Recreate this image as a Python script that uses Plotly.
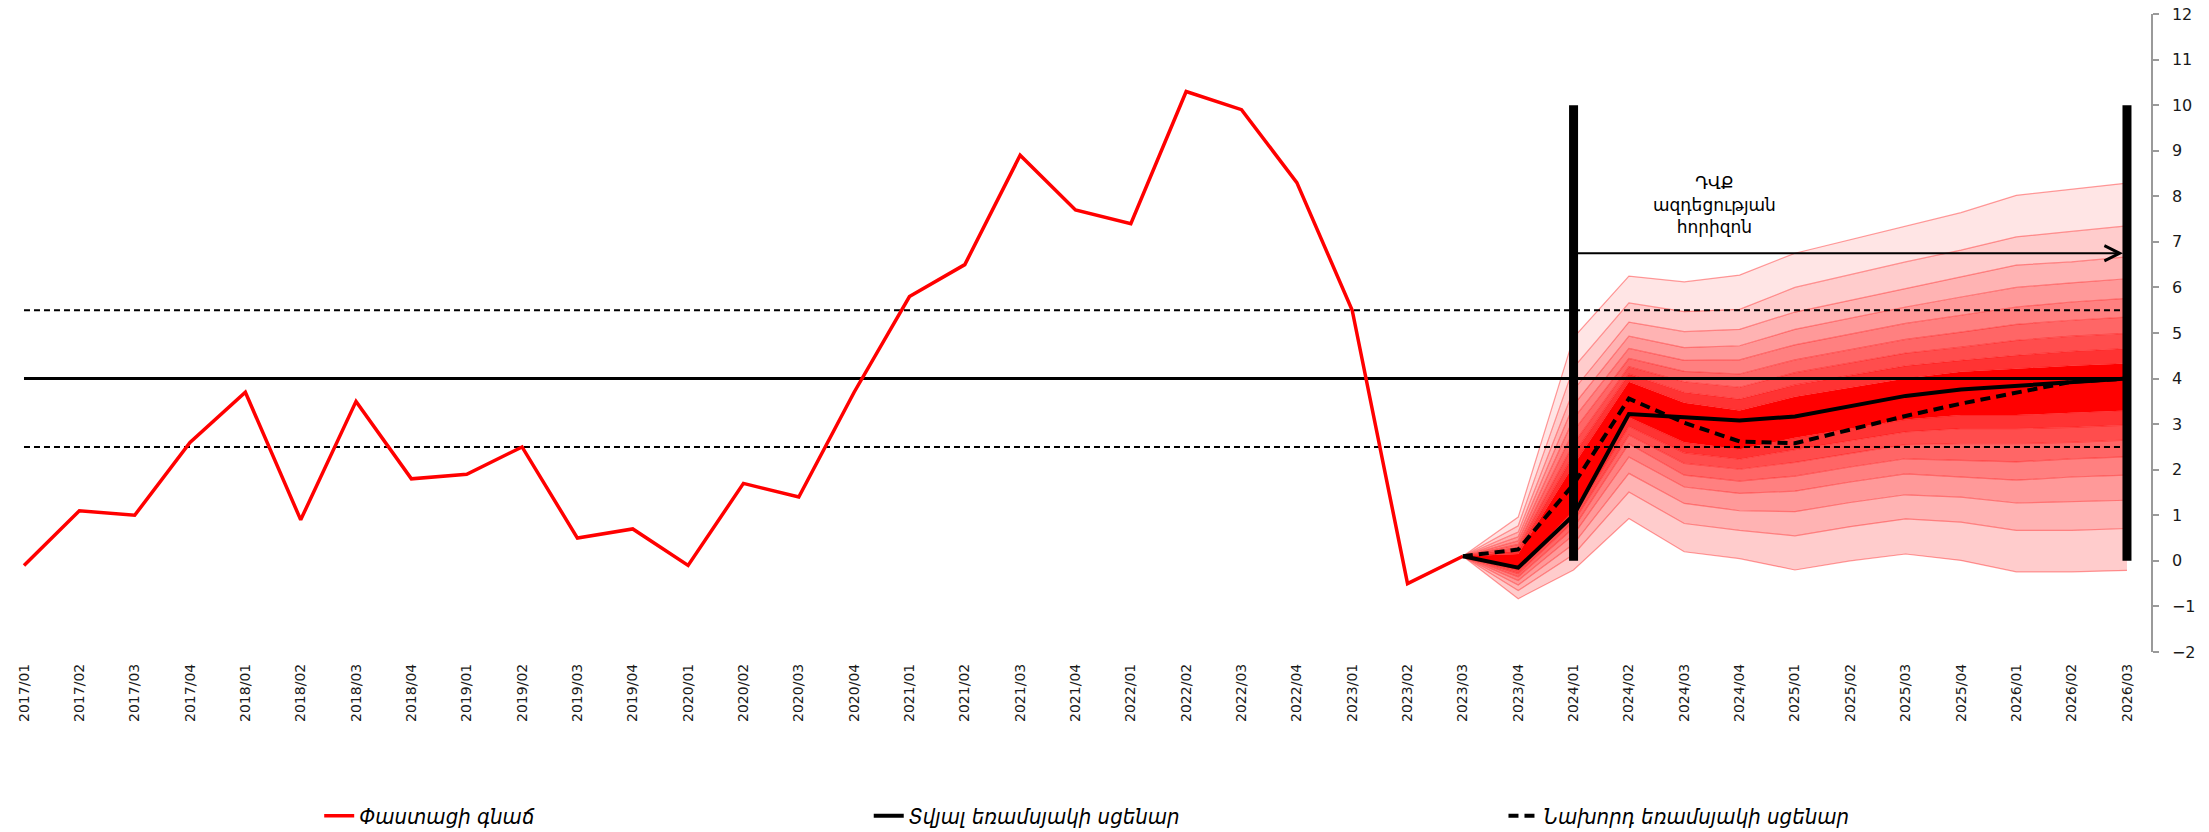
import plotly.graph_objects as go

# ---------------- data ----------------
categories = [f"{y}/{q:02d}" for y in range(2017, 2027) for q in range(1, 5)][:39]

actual_label = "Փաստացի գնաճ"
current_label = "Տվյալ եռամսյակի սցենար"
previous_label = "Նախորդ եռամսյակի սցենար"
horizon_text = "ԴՎՔ<br>ազդեցության<br>հորիզոն"

# actual inflation 2017/01 .. 2023/03
actual = [-0.1, 1.1, 1.0, 2.6, 3.7, 0.9, 3.5, 1.8, 1.9, 2.5, 0.5, 0.7, -0.1,
          1.7, 1.4, 3.7, 5.8, 6.5, 8.9, 7.7, 7.4, 10.3, 9.9, 8.3, 5.5, -0.5, 0.1]

# forecast period 2023/03 .. 2026/03
fc_start = "2023/03"
current_scn = [0.1, -0.15, 1.0, 3.22, 3.15, 3.08, 3.17, 3.4, 3.62, 3.76, 3.84, 3.92, 4.0]
previous_scn = [0.1, 0.25, 1.68, 3.56, 3.03, 2.62, 2.58, 2.88, 3.18, 3.45, 3.68, 3.93, 4.0]

# fan chart band edges (top to bottom)
up1 = [0.1, 0.96, 4.9, 6.25, 6.12, 6.27, 6.75, 7.05, 7.35, 7.64, 8.02, 8.15, 8.29]
up2 = [0.1, 0.77, 4.24, 5.66, 5.47, 5.52, 6.0, 6.28, 6.56, 6.82, 7.11, 7.23, 7.35]
up3 = [0.1, 0.63, 3.75, 5.24, 5.03, 5.08, 5.46, 5.72, 5.98, 6.23, 6.49, 6.56, 6.67]
up4 = [0.1, 0.53, 3.42, 4.93, 4.68, 4.72, 5.08, 5.33, 5.57, 5.79, 6.0, 6.10, 6.19]
up5 = [0.1, 0.44, 3.12, 4.66, 4.40, 4.41, 4.74, 4.97, 5.21, 5.39, 5.57, 5.68, 5.76]
up6 = [0.1, 0.36, 2.85, 4.44, 4.16, 4.10, 4.41, 4.64, 4.86, 5.02, 5.19, 5.28, 5.35]
up7 = [0.1, 0.29, 2.57, 4.26, 3.93, 3.81, 4.13, 4.34, 4.56, 4.69, 4.84, 4.93, 4.99]
up8 = [0.1, 0.22, 2.33, 4.10, 3.70, 3.55, 3.86, 4.07, 4.28, 4.40, 4.51, 4.60, 4.66]
up9 = [0.1, 0.15, 2.1, 3.93, 3.47, 3.3, 3.6, 3.8, 4.0, 4.15, 4.22, 4.28, 4.33]
lo1 = [0.1, -0.15, 1.1, 3.15, 2.6, 2.45, 2.7, 2.9, 3.1, 3.2, 3.2, 3.25, 3.30]
lo2 = [0.1, -0.21, 0.98, 2.95, 2.37, 2.23, 2.44, 2.64, 2.83, 2.9, 2.9, 2.93, 2.98]
lo3 = [0.1, -0.28, 0.86, 2.76, 2.14, 2.01, 2.16, 2.36, 2.55, 2.57, 2.57, 2.60, 2.65]
lo4 = [0.1, -0.35, 0.72, 2.57, 1.88, 1.75, 1.86, 2.06, 2.24, 2.21, 2.17, 2.24, 2.28]
lo5 = [0.1, -0.43, 0.57, 2.28, 1.62, 1.48, 1.53, 1.73, 1.91, 1.84, 1.77, 1.84, 1.88]
lo6 = [0.1, -0.53, 0.37, 1.92, 1.26, 1.10, 1.08, 1.28, 1.45, 1.40, 1.27, 1.30, 1.33]
lo7 = [0.1, -0.65, 0.14, 1.51, 0.82, 0.67, 0.55, 0.75, 0.92, 0.85, 0.67, 0.67, 0.71]
lo8 = [0.1, -0.83, -0.2, 0.93, 0.2, 0.05, -0.2, 0.0, 0.15, 0.01, -0.24, -0.24, -0.21]

target = 4.0
tolerance_hi = 5.5
tolerance_lo = 2.5
horizon_start = "2024/01"
horizon_end = "2026/03"
horizon_bar = [0, 10]
horizon_arrow_y = 6.75

# ---------------- styling ----------------
edges_bottom_up = [lo8, lo7, lo6, lo5, lo4, lo3, lo2, lo1, up9, up8, up7, up6, up5, up4, up3, up2, up1]
band_colors = [None, "#FFCCCC", "#FFB3B3", "#FF9999", "#FF8080", "#FF6666", "#FF4D4D", "#FF3333",
               "#FF0000", "#FF3333", "#FF4D4D", "#FF6666", "#FF8080", "#FF9999", "#FFB3B3", "#FFCCCC", "#FFE5E5"]

idx = {c: i for i, c in enumerate(categories)}
x_all = list(range(len(categories)))
x_act = x_all[:len(actual)]
x_fc = list(range(idx[fc_start], idx[fc_start] + len(current_scn)))

FONT = "DejaVu Sans"
fig = go.Figure()

for k, edge in enumerate(edges_bottom_up):
    fig.add_trace(go.Scatter(
        x=x_fc, y=edge, mode="lines",
        line=dict(color="rgba(255,0,0,0.38)", width=1.2),
        fill=None if k == 0 else "tonexty",
        fillcolor=band_colors[k],
        showlegend=False, hoverinfo="skip"))

fig.add_trace(go.Scatter(x=[x_all[0], x_all[-1]], y=[target, target], mode="lines",
                         line=dict(color="black", width=3), showlegend=False, hoverinfo="skip"))
for v in (tolerance_hi, tolerance_lo):
    fig.add_trace(go.Scatter(x=[x_all[0], x_all[-1]], y=[v, v], mode="lines",
                             line=dict(color="black", width=2, dash="6px,4px"),
                             showlegend=False, hoverinfo="skip"))

fig.add_trace(go.Scatter(x=x_act, y=actual, mode="lines", name=actual_label,
                         line=dict(color="#FF0000", width=3.5), legend="legend"))
fig.add_trace(go.Scatter(x=x_fc, y=current_scn, mode="lines", name=current_label,
                         line=dict(color="black", width=4), legend="legend2"))
fig.add_trace(go.Scatter(x=x_fc, y=previous_scn, mode="lines", name=previous_label,
                         line=dict(color="black", width=4, dash="10px,6px"), legend="legend3"))

for c in (horizon_start, horizon_end):
    fig.add_trace(go.Scatter(x=[idx[c], idx[c]], y=horizon_bar, mode="lines",
                             line=dict(color="black", width=9), showlegend=False, hoverinfo="skip"))

fig.add_annotation(x=idx[horizon_end], y=horizon_arrow_y, ax=idx[horizon_start], ay=horizon_arrow_y,
                   axref="x", ayref="y", xref="x", yref="y", text="", showarrow=True,
                   arrowhead=5, arrowsize=1.5, arrowwidth=2, arrowcolor="black", standoff=4)
fig.add_annotation(x=30.55, y=7.81, xref="x", yref="y", text=horizon_text, showarrow=False,
                   font=dict(family=FONT, size=17, color="black"), align="center",
                   xanchor="center", yanchor="middle")

leg_common = dict(orientation="h", yanchor="middle", xanchor="left", y=-0.257,
                  bgcolor="rgba(0,0,0,0)",
                  font=dict(family="DejaVu Sans Condensed, DejaVu Sans", size=22, style="italic", color="black"))

fig.update_layout(
    width=2209, height=832,
    margin=dict(l=21, r=58, t=14, b=180, autoexpand=False),
    paper_bgcolor="white", plot_bgcolor="white",
    template="none",
    legend=dict(x=0.140, **leg_common),
    legend2=dict(x=0.398, **leg_common),
    legend3=dict(x=0.696, **leg_common),
    xaxis=dict(range=[-0.054, 38.434], tickmode="array", tickvals=x_all, ticktext=categories,
               tickangle=-90, showgrid=False, zeroline=False, showline=False, ticks="",
               ticklabelstandoff=8, automargin=False,
               tickfont=dict(family=FONT, size=14, color="#1a1a1a")),
    yaxis=dict(range=[-2, 12], side="right", dtick=1, tick0=0, showgrid=False, zeroline=False,
               showline=True, linecolor="#9a9a9a", linewidth=1.5, ticks="outside", ticklen=6,
               tickcolor="#9a9a9a", tickwidth=1.5, ticklabelstandoff=10, automargin=False,
               tickfont=dict(family=FONT, size=16, color="#1a1a1a")),
)

fig.write_html("out.html", config={"displayModeBar": False},
               post_script="document.body.style.margin='0';document.body.style.overflow='hidden';")
